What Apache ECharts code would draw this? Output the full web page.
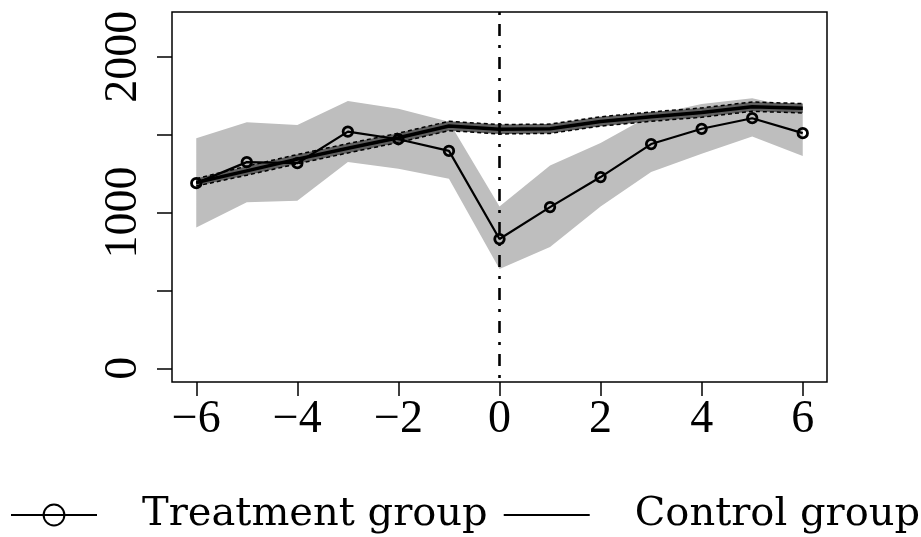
<!DOCTYPE html>
<html>
<head>
<meta charset="utf-8">
<script src="https://cdn.jsdelivr.net/npm/echarts@6/dist/echarts.min.js"></script>
<style>
html,body{margin:0;padding:0;background:#fff;}
#chart{width:921px;height:537px;}
</style>
</head>
<body>
<div id="chart"></div>
<script>
// ---- data ----
const periods = [-6, -5, -4, -3, -2, -1, 0, 1, 2, 3, 4, 5, 6];
const treatMean  = [1189, 1324, 1317, 1520, 1471, 1396, 830, 1035, 1228, 1440, 1538, 1606, 1510];
const treatLower = [904, 1067, 1076, 1324, 1281, 1217, 638, 779, 1039, 1260, 1377, 1488, 1364];
const treatUpper = [1478, 1580, 1563, 1717, 1666, 1584, 1039, 1302, 1446, 1627, 1698, 1734, 1662];
const ctrlMean  = [1193, 1268, 1343, 1413, 1480, 1556, 1535, 1538, 1585, 1616, 1642, 1680, 1670];
const ctrlLower = [1170, 1240, 1313, 1383, 1450, 1526, 1505, 1508, 1555, 1586, 1612, 1650, 1640];
const ctrlUpper = [1218, 1298, 1373, 1443, 1510, 1586, 1565, 1568, 1615, 1646, 1672, 1710, 1700];
const xTicks = [-6, -4, -2, 0, 2, 4, 6];
const yTicks = [0, 500, 1000, 1500, 2000];
const yLabels = [0, 1000, 2000];
const treatmentDate = [0];
const xRange = [-6.48, 6.48];
const yRange = [-88, 2288];
const seriesNames = ['Treatment group', 'Control group'];

const pairs = (ys) => periods.map((x, i) => [x, ys[i]]);

function bandSeries(lo, hi, color, z) {
  return {
    type: 'custom',
    silent: true,
    z: z,
    data: periods.map((x, i) => [x, lo[i], hi[i]]),
    encode: { x: 0, y: [1, 2] },
    renderItem: function (params, api) {
      if (params.dataIndex !== 0) return null;
      const pts = [];
      for (let i = 0; i < periods.length; i++) pts.push(api.coord([periods[i], hi[i]]));
      for (let i = periods.length - 1; i >= 0; i--) pts.push(api.coord([periods[i], lo[i]]));
      return { type: 'polygon', shape: { points: pts }, style: { fill: color, stroke: null } };
    }
  };
}

const chart = echarts.init(document.getElementById('chart'), null, { renderer: 'canvas' });
const labelFont = 'Liberation Serif';

chart.setOption({
  animation: false,
  backgroundColor: '#fff',
  grid: {
    left: 172, top: 12, right: 94, bottom: 155,
    show: true, borderColor: '#000', borderWidth: 1.5, backgroundColor: 'transparent'
  },
  legend: {
    data: seriesNames,
    left: 10, top: 495, width: 911,
    padding: 0,
    itemWidth: 86, itemHeight: 26, itemGap: 15,
    textStyle: { fontFamily: 'DejaVu Serif', fontSize: 40, color: '#000', padding: [0, 0, 0, 40] }
  },
  xAxis: {
    type: 'value', min: xRange[0], max: xRange[1],
    axisLine: { show: false, onZero: false },
    splitLine: { show: false },
    axisTick: { show: true, customValues: xTicks, length: 14, lineStyle: { color: '#000', width: 1.5 } },
    axisLabel: {
      customValues: xTicks, margin: 15, color: '#000', fontFamily: labelFont, fontSize: 46,
      formatter: (v) => String(v).replace('-', '\u2212')
    }
  },
  yAxis: {
    type: 'value', min: yRange[0], max: yRange[1],
    axisLine: { show: false, onZero: false },
    splitLine: { show: false },
    axisTick: { show: true, customValues: yTicks, length: 15, lineStyle: { color: '#000', width: 1.5 } },
    axisLabel: {
      customValues: yLabels, rotate: 90, margin: 25, color: '#000', fontFamily: labelFont, fontSize: 46,
      formatter: (v) => String(v)
    }
  },
  series: [
    bandSeries(treatLower, treatUpper, '#BEBEBE', 1),
    bandSeries(ctrlLower, ctrlUpper, '#5f5f5f', 2),
    {
      type: 'line', name: 'ctrlLower', data: pairs(ctrlLower), symbol: 'none', silent: true, z: 3,
      lineStyle: { color: '#000', width: 1.5, type: [4, 3] }
    },
    {
      type: 'line', name: 'ctrlUpper', data: pairs(ctrlUpper), symbol: 'none', silent: true, z: 3,
      lineStyle: { color: '#000', width: 1.5, type: [4, 3] }
    },
    {
      type: 'line', name: seriesNames[1], data: pairs(ctrlMean), symbol: 'none', z: 4,
      itemStyle: { color: 'transparent', borderWidth: 0 },
      lineStyle: { color: '#000', width: 3.5 }
    },
    {
      type: 'line', name: seriesNames[0], data: pairs(treatMean), z: 5,
      symbol: 'circle', symbolSize: 9.5, showAllSymbol: true,
      itemStyle: { color: 'transparent', borderColor: '#000', borderWidth: 2.8 },
      lineStyle: { color: '#000', width: 2.2 }
    },
    {
      type: 'line', name: 'event', z: 6, silent: true, symbol: 'none',
      data: [[treatmentDate[0], yRange[1]], [treatmentDate[0], yRange[0]]],
      lineStyle: { color: '#000', width: 2.6, type: [3, 9, 12, 9] }
    }
  ]
});
</script>
</body>
</html>
